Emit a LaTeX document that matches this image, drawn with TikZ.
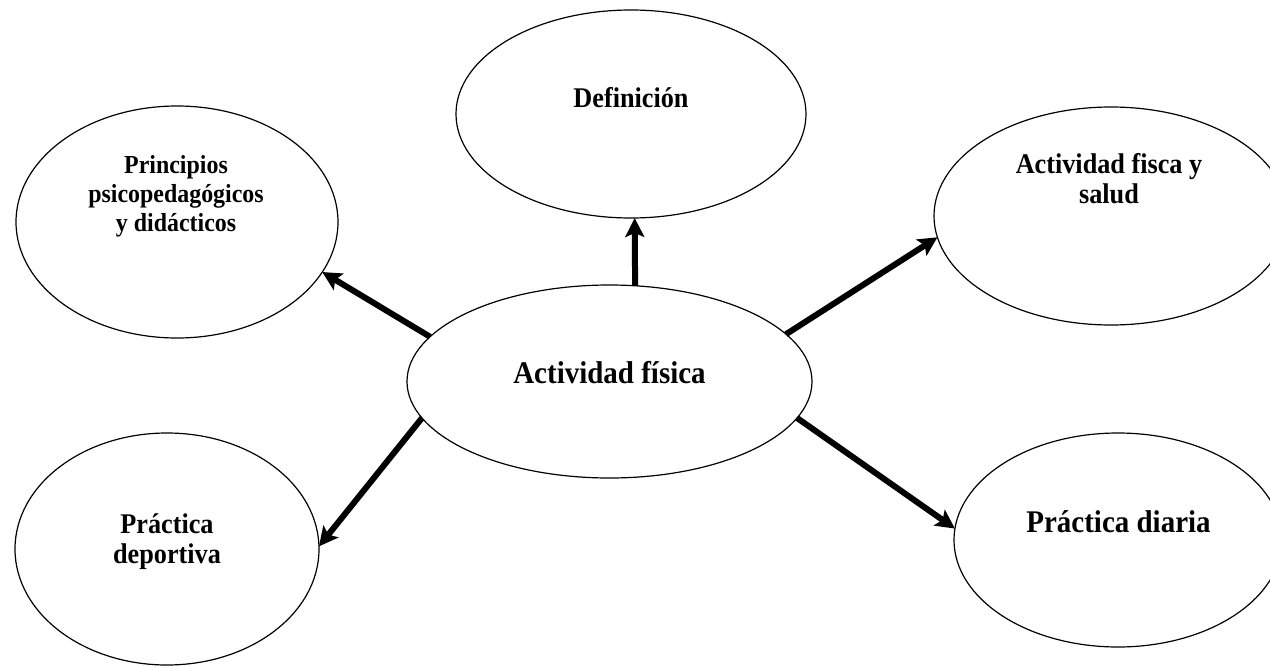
\documentclass[tikz,border=0pt]{standalone}
\usepackage{fontspec}
\setmainfont{Liberation Serif}[FakeStretch=0.92]
\usetikzlibrary{arrows.meta,shapes.geometric}
\begin{document}
\begin{tikzpicture}[x=1pt,y=-1pt,
  bubble/.style={draw,ellipse,line width=1.2pt,inner sep=0pt,outer sep=0pt},
  label/.style={align=center,anchor=base,inner sep=0pt,font=\bfseries\fontsize{28.5}{30}\selectfont},
  small/.style={label,font=\bfseries\fontsize{26}{29}\selectfont},
  big/.style={label,font=\bfseries\fontsize{31.5}{34}\selectfont},
  link/.style={line width=6pt,-{Stealth[length=19pt,width=19pt,inset=4pt]}}]
\useasboundingbox (0,0) rectangle (1270,667);
% ellipses
\node[bubble,minimum width=405pt,minimum height=193pt] (c) at (609.5,381.5) {};
\node[bubble,minimum width=350pt,minimum height=208pt] (d) at (631,114) {};
\node[bubble,minimum width=322pt,minimum height=232pt] (p) at (177,222) {};
\node[bubble,minimum width=354pt,minimum height=218pt] (a) at (1111,216) {};
\node[bubble,minimum width=304pt,minimum height=232pt] (e) at (167,549) {};
\node[bubble,minimum width=328pt,minimum height=214pt] (f) at (1118,540) {};
% texts (base anchor = baseline of the last line)
\node[big] (tc) at (609.5,383) {Actividad física};
\node[label] (td) at (631,107) {Definición};
\node[small] (tp) at (176,231) {Principios\\psicopedagógicos\\y didácticos};
\node[label] (ta) at (1109,203) {Actividad fisca y\\salud};
\node[label] (te) at (167,563) {Práctica\\deportiva};
\node[big] (tf) at (1118.5,532) {Práctica diaria};
% arrows
\draw[link] (c.75) -- (d.272);
\draw[link] (c.166) -- (p.341);
\draw[link] (c.15) -- (a.187);
\draw[link] (c.191) -- (e.1);
\draw[link] (c.349) -- (f.176);
\end{tikzpicture}
\end{document}
